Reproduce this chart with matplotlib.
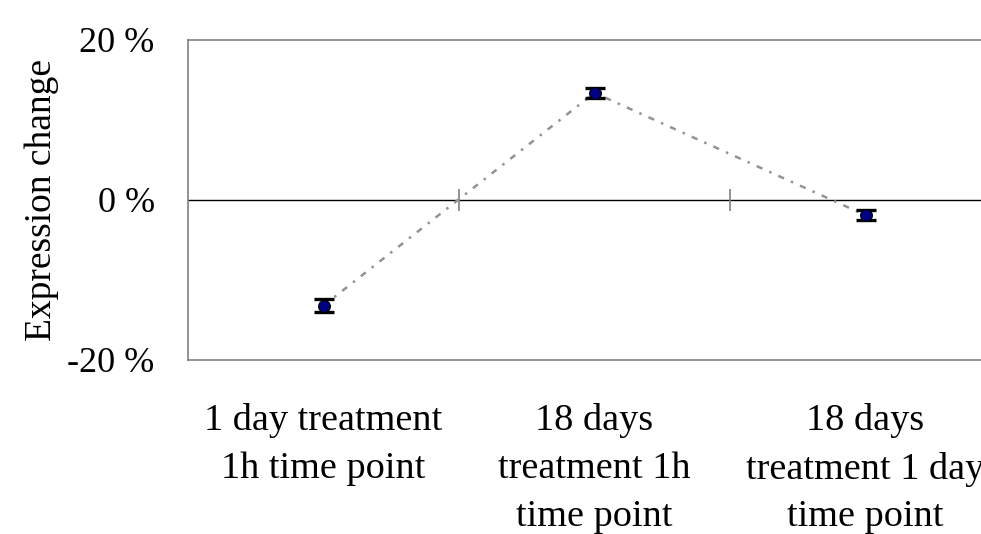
import matplotlib
matplotlib.use("Agg")
import matplotlib.pyplot as plt
import matplotlib.ticker as mticker

# values (percent)
categories = ["1 day treatment\n1h time point",
              "18 days\ntreatment 1h\ntime point",
              "18 days\ntreatment 1 day\ntime point"]
change = [-13.2, 13.4, -1.9]
err = [0.8, 0.65, 0.6]
yticks = [-20, 0, 20]

plt.rcParams['font.family'] = ['Liberation Serif', 'DejaVu Serif']

W, H = 981, 534
fig = plt.figure(figsize=(W / 100, H / 100), dpi=100)
# axes runs past the right edge of the picture, like the original crop
left, top, bottom, width = 188, 40, 360, 813
ax = fig.add_axes([left / W, 1 - bottom / H, width / W, (bottom - top) / H])

x = list(range(len(categories)))
ax.plot(x, change, color='#939393', lw=1.8, dashes=(2.5, 3, 1, 3), zorder=2)
ax.errorbar(x, change, yerr=err, fmt='none', ecolor='black', elinewidth=1.2,
            capsize=7, capthick=2.4, zorder=3)
ax.plot(x, change, 'o', ms=8.5, mfc='#000080', mec='black', mew=0.8, zorder=4)

ax.axhline(0, color='black', lw=1, zorder=1)
# category separators on the zero line
ax.vlines([0.5, 1.5], -1.4, 1.4, color='#808080', lw=1.2, zorder=1)

ax.set_xlim(-0.5, len(categories) - 0.5)
ax.set_ylim(-20, 20)

for side in ['left', 'top', 'bottom', 'right']:
    ax.spines[side].set_color('#808080')
    ax.spines[side].set_linewidth(1.2)

ax.set_yticks(yticks)
ax.yaxis.set_major_formatter(mticker.FuncFormatter(lambda v, p: '%d %%' % v))
ax.tick_params(axis='y', length=0, pad=24, labelsize=26)
ax.set_xticks(x)
ax.set_xticklabels(categories, fontsize=27.5, linespacing=1.5)
ax.tick_params(axis='x', length=0, pad=31)

fig.text(42 / W, 1 - 200 / H, 'Expression change', rotation=90,
         ha='center', va='center', fontsize=27)

fig.savefig('out.png', dpi=100)
